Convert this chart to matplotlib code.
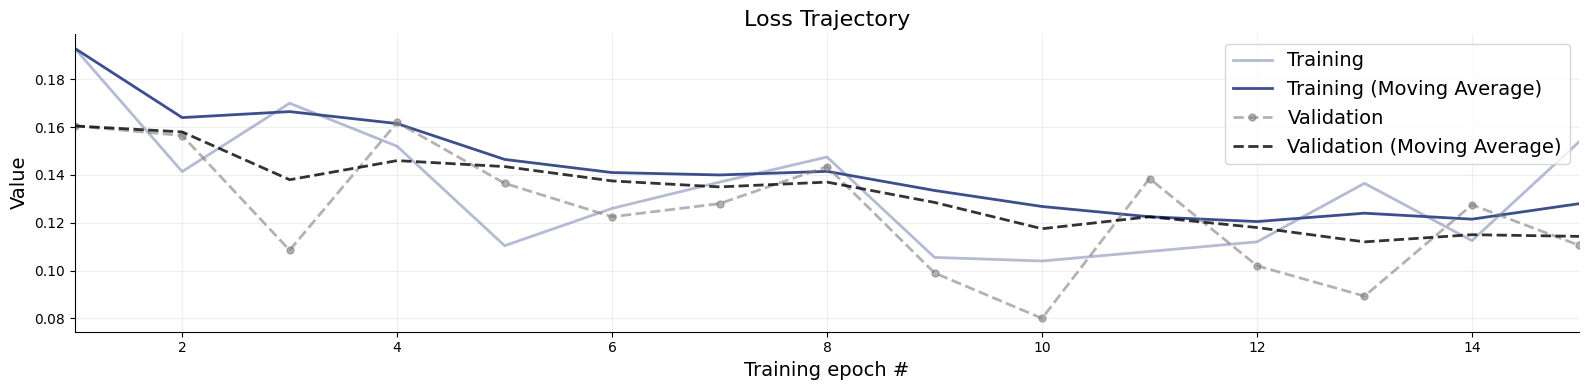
import matplotlib
matplotlib.use("Agg")
import matplotlib.pyplot as plt
import numpy as np

# epochs und werte
epochs = np.arange(1, 16)
train_loss = [0.193, 0.1414, 0.170, 0.152, 0.1104, 0.126, 0.137, 0.1475,
              0.1055, 0.104, 0.108, 0.112, 0.1365, 0.1125, 0.154]
train_ma = [0.193, 0.164, 0.1665, 0.1615, 0.1465, 0.141, 0.140, 0.1415,
            0.1335, 0.1268, 0.1225, 0.1205, 0.124, 0.1215, 0.128]
val_loss = [0.1605, 0.1565, 0.1085, 0.162, 0.1365, 0.1225, 0.128, 0.1435,
            0.099, 0.080, 0.1385, 0.102, 0.0893, 0.1275, 0.1105]
val_ma = [0.1605, 0.158, 0.138, 0.146, 0.1435, 0.1375, 0.135, 0.137,
          0.1285, 0.1175, 0.1225, 0.118, 0.112, 0.115, 0.1143]

fig, ax = plt.subplots(figsize=(15.89, 3.9), dpi=100)

ax.plot(epochs, train_loss, color="#3c4e8b", alpha=0.38, lw=2, label="Training")
ax.plot(epochs, train_ma, color="#3c4e8b", lw=2, label="Training (Moving Average)")
ax.plot(epochs, val_loss, color="gray", alpha=0.6, lw=2, ls="--", marker="o",
        markersize=5, label="Validation")
ax.plot(epochs, val_ma, color="black", alpha=0.8, lw=2, ls="--",
        label="Validation (Moving Average)")

ax.set_xlim(1, 15)
ax.set_ylim(0.0745, 0.199)
ax.grid(alpha=0.2)
ax.spines["top"].set_visible(False)
ax.spines["right"].set_visible(False)

ax.set_title("Loss Trajectory", fontsize=16)
ax.set_xlabel("Training epoch #", fontsize=14)
ax.set_ylabel("Value", fontsize=14)
ax.legend(fontsize=14, loc="upper right")

plt.subplots_adjust(left=0.047, right=0.994, top=0.913, bottom=0.15)
fig.savefig("out.png")
